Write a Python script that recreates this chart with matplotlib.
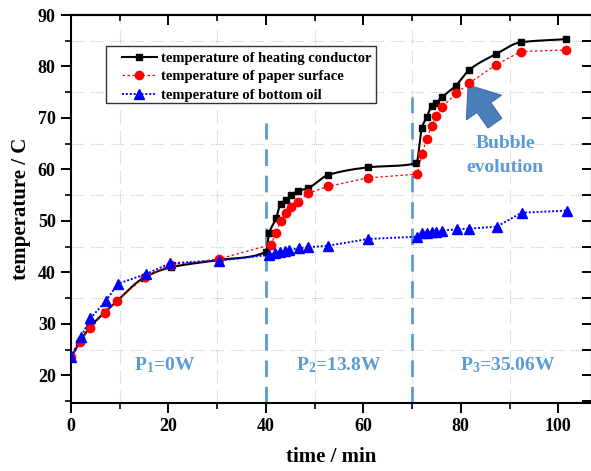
import numpy as np
import matplotlib
matplotlib.use("Agg")
import matplotlib.pyplot as plt
from matplotlib.ticker import MultipleLocator
from matplotlib.patches import Rectangle

plt.rcParams['font.family'] = ['Liberation Serif', 'DejaVu Serif']
plt.rcParams['font.weight'] = 'bold'
plt.rcParams['mathtext.fontset'] = 'custom'
plt.rcParams['mathtext.rm'] = 'Liberation Serif:bold'
plt.rcParams['mathtext.bf'] = 'Liberation Serif:bold'
plt.rcParams['mathtext.it'] = 'Liberation Serif:bold:italic'

# heating conductor
t_cond = [0, 2, 4, 7, 9.5, 15, 20.5, 30.3, 40.0, 40.7, 42.1, 43.0, 44.1, 45.1, 46.6, 48.7,
          52.7, 60.9, 70.9, 72.0, 73.0, 74.0, 75.0, 76.1, 79.0, 81.7, 87.2, 92.3, 101.5]
T_cond = [23.5, 26.8, 29.5, 32.3, 34.5, 39.0, 41.0, 42.4, 44.0, 47.7, 50.5, 53.3, 54.1, 55.0, 55.8, 56.4,
          58.9, 60.4, 61.2, 68.1, 70.1, 72.3, 73.0, 74.0, 76.3, 79.3, 82.4, 84.7, 85.3]
# paper surface
t_paper = [0, 1.85, 3.9, 7.0, 9.5, 15.1, 20.5, 30.3, 41.0, 42.1, 43.0, 44.1, 45.1, 46.6, 48.7,
           52.7, 60.9, 71.1, 72.0, 73.0, 74.0, 75.0, 76.1, 79.1, 81.7, 87.2, 92.3, 101.5]
T_paper = [23.6, 26.45, 29.3, 32.2, 34.5, 39.1, 41.5, 42.6, 45.4, 47.7, 49.9, 51.5, 52.7, 53.75, 55.4,
           56.7, 58.35, 59.1, 62.95, 65.9, 68.45, 70.4, 72.1, 74.8, 76.75, 80.3, 82.9, 83.2]
# bottom oil
t_oil = [0, 2.05, 4.0, 7.2, 9.6, 15.3, 20.4, 30.4, 40.7, 41.9, 42.9, 43.9, 44.8, 46.8, 48.7,
         52.8, 61.0, 71.1, 72.0, 73.0, 74.0, 75.0, 76.1, 79.3, 81.7, 87.4, 92.5, 101.7]
T_oil = [23.6, 27.5, 31.1, 34.5, 37.8, 39.65, 41.8, 42.3, 43.4, 43.7, 43.9, 44.2, 44.4, 44.7, 44.9,
         45.2, 46.5, 46.95, 47.6, 47.7, 47.8, 47.8, 48.1, 48.4, 48.5, 48.9, 51.6, 52.0]

stage_times = [40, 70]
stage_tops = [69.1, 74.0]
stage_labels = ["P$_{\\mathrm{1}}$=0W", "P$_{\\mathrm{2}}$=13.8W", "P$_{\\mathrm{3}}$=35.06W"]
stage_label_x = [19.3, 55.0, 89.7]

note_blue = '#5B9BD5'
YMIN, YMAX = 14.7, 90


def pchip(x, y, xs):
    # monotone cubic, only used to draw the smooth black curve
    x = np.asarray(x, float)
    y = np.asarray(y, float)
    h = np.diff(x)
    d = np.diff(y) / h
    m = np.zeros_like(y)
    for k in range(1, len(x) - 1):
        if d[k - 1] * d[k] > 0:
            w1 = 2 * h[k] + h[k - 1]
            w2 = h[k] + 2 * h[k - 1]
            m[k] = (w1 + w2) / (w1 / d[k - 1] + w2 / d[k])
    m[0] = d[0]
    m[-1] = d[-1]
    i = np.clip(np.searchsorted(x, xs) - 1, 0, len(x) - 2)
    s = (xs - x[i]) / h[i]
    h00 = 2 * s**3 - 3 * s**2 + 1
    h10 = s**3 - 2 * s**2 + s
    h01 = -2 * s**3 + 3 * s**2
    h11 = s**3 - s**2
    return h00 * y[i] + h10 * h[i] * m[i] + h01 * y[i + 1] + h11 * h[i] * m[i + 1]


fig = plt.figure(figsize=(5.91, 4.71), dpi=100)
ax = fig.add_axes([71 / 591, 1 - 402.7 / 471, (591.6 - 71) / 591, (402.7 - 15) / 471])

ax.set_xlim(0, 106.85)
ax.set_ylim(YMIN, YMAX)

ax.xaxis.set_major_locator(MultipleLocator(20))
ax.xaxis.set_minor_locator(MultipleLocator(10))
ax.yaxis.set_major_locator(MultipleLocator(10))
ax.yaxis.set_minor_locator(MultipleLocator(5))

# grid only on the minor positions, dotted in short runs
gls = (0, (1, 1, 1, 1, 1, 1, 1, 1, 1, 1, 1, 7))
for gx in [10, 30, 50, 70, 90]:
    ax.axvline(gx, color='#c8c8c8', lw=0.8, ls=gls, zorder=0)
for gy in [25, 35, 45, 55, 65, 75, 85]:
    ax.axhline(gy, color='#c8c8c8', lw=0.8, ls=gls, zorder=0)

# stage separators
for st, top_v in zip(stage_times, stage_tops):
    ax.axvline(st, ymax=(top_v - YMIN) / (YMAX - YMIN), color=note_blue, lw=2,
               ls=(0, (6, 3.5)), zorder=1)

xs = np.linspace(t_cond[0], t_cond[-1], 800)
ax.plot(xs, pchip(t_cond, T_cond, xs), color='black', lw=1.5, zorder=3)
ax.plot(t_cond, T_cond, ls='none', marker='s', ms=5, color='black', zorder=3)
ax.plot(t_paper, T_paper, color='red', lw=0.9, ls=(0, (2, 2)), marker='o', ms=6, zorder=4)
ax.plot(t_oil, T_oil, color='blue', lw=1.4, ls=(0, (1, 1)), marker='^', ms=7, zorder=5)

# legend: items without frame, frame drawn as its own box
h1, = ax.plot([], [], color='black', lw=1.5, marker='s', ms=5)
h2, = ax.plot([], [], color='red', lw=0.9, ls=(0, (2, 2)), marker='o', ms=6)
h3, = ax.plot([], [], color='blue', lw=1.4, ls=(0, (1, 1)), marker='^', ms=7)
leg = ax.legend([h1, h2, h3],
                ["temperature of heating conductor", "temperature of paper surface",
                 "temperature of bottom oil"],
                loc='upper left', bbox_to_anchor=(0.0976, 0.905), borderaxespad=0, borderpad=0,
                frameon=False, handlelength=2.4, handletextpad=0.3, labelspacing=0.36,
                prop={'weight': 'bold', 'size': 10.5})
leg.set_zorder(7)
ax.add_patch(Rectangle((0.0668, 0.772), 0.585 - 0.0668, 0.921 - 0.772, transform=ax.transAxes,
                       fc='white', ec='#333333', lw=1.0, zorder=6))

for lx, lt in zip(stage_label_x, stage_labels):
    ax.text(lx, 22.0, lt, color=note_blue, fontsize=14, fontweight='bold', ha='center', va='center')

ax.text(89.1, 65.0, "Bubble", color=note_blue, fontsize=14, fontweight='bold', ha='center', va='center')
ax.text(89.1, 60.3, "evolution", color=note_blue, fontsize=14, fontweight='bold', ha='center', va='center')
ax.annotate("", xy=(81.5, 76.4), xytext=(87.0, 69.0),
            arrowprops=dict(arrowstyle='simple,head_length=0.9,head_width=1.4,tail_width=0.55',
                            fc='#4A7EBB', ec='#3C6CA3', lw=0.8, mutation_scale=22, shrinkA=0, shrinkB=0))

ax.set_xlabel("time / min", fontsize=15, fontweight='bold', labelpad=9)
ax.set_ylabel("temperature / C", fontsize=15, fontweight='bold', labelpad=5)

for s in ax.spines.values():
    s.set_linewidth(1.5)
ax.tick_params(which='major', direction='out', length=7, width=1.4, labelsize=13, pad=4)
ax.tick_params(which='minor', direction='out', length=4, width=1.2)
for lab in ax.get_xticklabels() + ax.get_yticklabels():
    lab.set_fontweight('bold')

top = ax.secondary_xaxis('top')
top.xaxis.set_major_locator(MultipleLocator(20))
top.xaxis.set_minor_locator(MultipleLocator(10))
top.tick_params(which='major', direction='in', length=7, width=1.4, labeltop=False)
top.tick_params(which='minor', direction='in', length=4, width=1.2)
right = ax.secondary_yaxis('right')
right.yaxis.set_major_locator(MultipleLocator(10))
right.yaxis.set_minor_locator(MultipleLocator(5))
right.tick_params(which='both', direction='in', length=7, width=1.4, labelright=False)
for sec in (top, right):
    for s in sec.spines.values():
        s.set_linewidth(1.5)

fig.savefig("out.png", dpi=100)
